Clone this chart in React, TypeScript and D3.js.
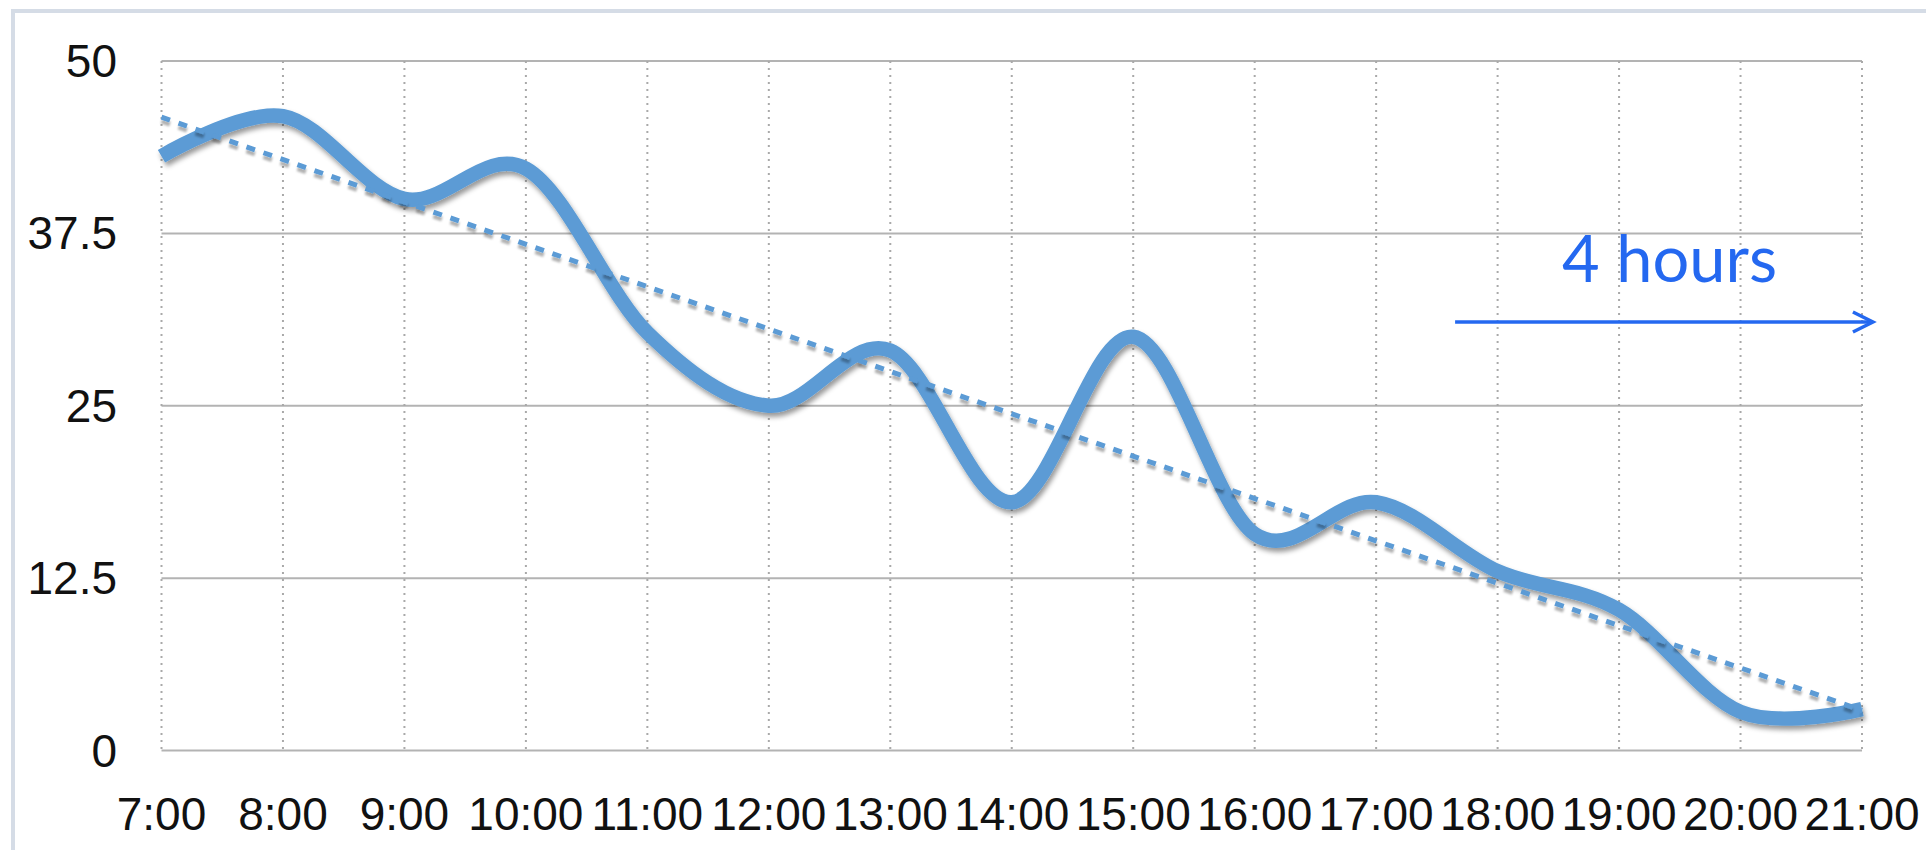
import React from "react";
import * as d3 from "d3";

const hours = ["7:00","8:00","9:00","10:00","11:00","12:00","13:00","14:00","15:00","16:00","17:00","18:00","19:00","20:00","21:00"];
const values = [43.1, 46.0, 40.0, 42.2, 30.3, 25.0, 29.0, 18.0, 30.0, 15.7, 18.0, 13.0, 10.2, 2.8, 3.0];
const yTicks = [0, 12.5, 25, 37.5, 50];
const yTickLabels = ["0", "12.5", "25", "37.5", "50"];
const annotationText = "4 hours";
const arrowHours = [17.65, 21.09];

export default function App() {
  const W = 1926, H = 850;
  const left = 161.5, right = 1862, top = 61, bottom = 750.5;
  const x = d3.scaleLinear().domain([0, hours.length - 1]).range([left, right]);
  const xh = d3.scaleLinear().domain([7, 21]).range([left, right]);
  const y = d3.scaleLinear().domain([0, 50]).range([bottom, top]);

  const pts: [number, number][] = values.map((v, i) => [i, v]);
  const line = d3.line<[number, number]>()
    .x(d => x(d[0])).y(d => y(d[1]))
    .curve(d3.curveCardinal.tension(0));

  // linear trend (least squares)
  const n = values.length;
  const mx = d3.mean(pts, d => d[0])!;
  const my = d3.mean(values)!;
  const sxy = d3.sum(pts, d => (d[0] - mx) * (d[1] - my));
  const sxx = d3.sum(pts, d => (d[0] - mx) ** 2);
  const slope = sxy / sxx;
  const b = my - slope * mx;
  const t0 = b, t1 = b + slope * (n - 1);

  const font = "'Liberation Sans', Arial, Helvetica, sans-serif";
  const blue = "#2468F0";
  const ay = 322;
  const ax0 = xh(arrowHours[0]);
  const ax1 = xh(arrowHours[1]);

  return (
    <svg width={W} height={H} style={{ position: "absolute", left: 0, top: 0, display: "block", background: "#fff" }}>
      <defs>
        <filter id="sh" x="-10%" y="-10%" width="120%" height="130%">
          <feDropShadow dx="2" dy="4" stdDeviation="2.5" floodColor="#000" floodOpacity="0.4" />
        </filter>
        <filter id="sh2" x="-10%" y="-10%" width="120%" height="130%">
          <feDropShadow dx="0" dy="4" stdDeviation="1" floodColor="#000" floodOpacity="0.3" />
        </filter>
      </defs>
      <path d={`M13,${H + 10} V11 H${W + 10}`} fill="none" stroke="#D5DCE6" strokeWidth={4} />

      {yTicks.map((t, i) => (
        <line key={"h" + i} x1={left} x2={right} y1={y(t)} y2={y(t)} stroke="#B3B3B3" strokeWidth={2} />
      ))}
      {hours.map((h, i) => (
        <line key={"v" + i} x1={x(i)} x2={x(i)} y1={top} y2={bottom} stroke="#A9A9A9" strokeWidth={2} strokeDasharray="2 5" />
      ))}

      {yTicks.map((t, i) => (
        <text key={"yl" + i} x={117} y={y(t)} dy="0.35em" textAnchor="end" fontFamily={font} fontSize={46} fill="#111">{yTickLabels[i]}</text>
      ))}
      {hours.map((h, i) => (
        <text key={"xl" + i} x={x(i)} y={830} textAnchor="middle" fontFamily={font} fontSize={46} fill="#111">{h}</text>
      ))}

      <path d={line(pts) || ""} fill="none" stroke="#5B9BD5" strokeWidth={14.5} strokeLinecap="butt" strokeLinejoin="round" filter="url(#sh)" />
      <line x1={x(0)} y1={y(t0)} x2={x(n - 1)} y2={y(t1)} stroke="#5B9BD5" strokeWidth={5} strokeDasharray="9 9" filter="url(#sh2)" />

      <text x={1562} y={282} fontFamily="Lato, 'Open Sans', sans-serif" fontSize={66} fill={blue} textLength={215} lengthAdjust="spacingAndGlyphs">{annotationText}</text>
      <line x1={ax0} x2={ax1} y1={ay} y2={ay} stroke={blue} strokeWidth={3.5} />
      <path d={`M${ax1 - 20},${ay - 10} L${ax1},${ay} L${ax1 - 20},${ay + 10}`} fill="none" stroke={blue} strokeWidth={3.5} strokeLinejoin="miter" />
    </svg>
  );
}
